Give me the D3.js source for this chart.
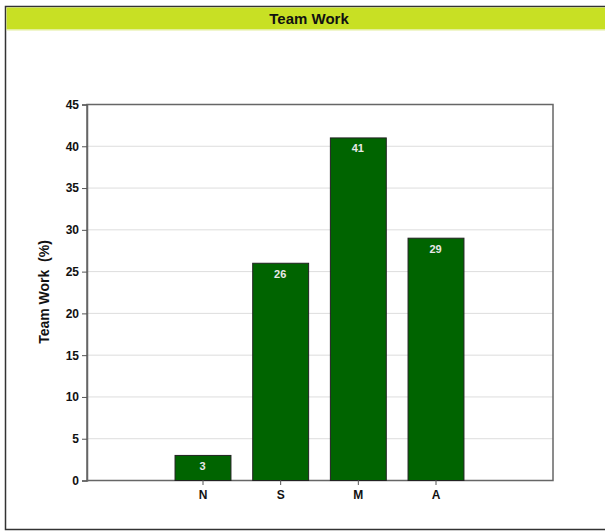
<!DOCTYPE html>
<html>
<head>
<meta charset="utf-8">
<script src="https://cdn.jsdelivr.net/npm/d3@7"></script>
<style>
body { margin: 0; background: #fff; }
text { font-family: "Liberation Sans", Arial, sans-serif; }
</style>
</head>
<body>
<div id="chart"></div>
<script>
var categories = ["", "N", "S", "M", "A", ""];
var values = [null, 3, 26, 41, 29, null];
var yTicks = [0, 5, 10, 15, 20, 25, 30, 35, 40, 45];
var title = "Team Work";
var yLabel = "Team Work  (%)";

var width = 605, height = 531;
var plot = { left: 87, top: 104, right: 553, bottom: 480 };

var svg = d3.select("#chart").append("svg")
	.attr("width", width)
	.attr("height", height);

// outer frame
svg.append("rect")
	.attr("x", 5.5).attr("y", 6.5)
	.attr("width", 640).attr("height", 523)
	.attr("fill", "#fff")
	.attr("stroke", "#333")
	.attr("stroke-width", 1.5);

// title bar
svg.append("rect")
	.attr("x", 6.5).attr("y", 7.5)
	.attr("width", 620).attr("height", 22)
	.attr("fill", "#c8e024");
svg.append("line")
	.attr("x1", 6.5).attr("x2", 620)
	.attr("y1", 30).attr("y2", 30)
	.attr("stroke", "#e2ee9a");
svg.append("text")
	.attr("x", 309).attr("y", 24)
	.attr("text-anchor", "middle")
	.attr("font-size", 15)
	.attr("font-weight", "bold")
	.attr("fill", "#111")
	.text(title);

var x = d3.scaleBand()
	.domain(d3.range(categories.length))
	.range([plot.left - 1, plot.right - 1])
	.paddingInner(0.28)
	.paddingOuter(0.14);

var y = d3.scaleLinear()
	.domain([0, 45])
	.range([plot.bottom, plot.top]);

// grid
svg.append("g").selectAll("line")
	.data(yTicks.slice(1))
	.enter().append("line")
	.attr("x1", plot.left).attr("x2", plot.right)
	.attr("y1", function(d){ return y(d) + 0.5; })
	.attr("y2", function(d){ return y(d) + 0.5; })
	.attr("stroke", "#ddd")
	.attr("stroke-width", 1);

// plot frame
svg.append("rect")
	.attr("x", plot.left).attr("y", plot.top + 0.5)
	.attr("width", plot.right - plot.left)
	.attr("height", plot.bottom - plot.top)
	.attr("fill", "none")
	.attr("stroke", "#666")
	.attr("stroke-width", 1.5);

// bars
var bars = svg.append("g").selectAll("g")
	.data(values.map(function(v, i){ return { i: i, v: v }; }).filter(function(d){ return d.v != null; }))
	.enter().append("g");

bars.append("rect")
	.attr("x", function(d){ return x(d.i) + 0.5; })
	.attr("y", function(d){ return y(d.v) + 0.5; })
	.attr("width", x.bandwidth())
	.attr("height", function(d){ return plot.bottom - y(d.v); })
	.attr("fill", "#006400")
	.attr("stroke", "#222")
	.attr("stroke-width", 1);

bars.append("text")
	.attr("x", function(d){ return x(d.i) + x.bandwidth() / 2; })
	.attr("y", function(d){ return y(d.v) + 15; })
	.attr("text-anchor", "middle")
	.attr("font-size", 11)
	.attr("font-weight", "bold")
	.attr("fill", "#e8e8e8")
	.text(function(d){ return d.v; });

// y axis
var yAxis = svg.append("g")
	.attr("transform", "translate(" + plot.left + ",0.5)")
	.call(d3.axisLeft(y).tickValues(yTicks).tickSize(5).tickPadding(3));
yAxis.select(".domain").attr("stroke", "#666").attr("stroke-width", 1.5);
yAxis.selectAll(".tick line").attr("stroke", "#555");
yAxis.selectAll(".tick text")
	.attr("font-size", 12)
	.attr("font-weight", "bold")
	.attr("fill", "#111")
	.style("font-family", "'Liberation Sans', Arial, sans-serif");

// x axis
var xAxis = svg.append("g")
	.attr("transform", "translate(0.5," + plot.bottom + ")")
	.call(d3.axisBottom(x).tickFormat(function(i){ return categories[i]; }).tickSize(5).tickPadding(5));
xAxis.select(".domain").remove();
xAxis.selectAll(".tick").filter(function(i){ return categories[i] === ""; }).remove();
xAxis.selectAll(".tick line").attr("stroke", "#555");
xAxis.selectAll(".tick text")
	.attr("font-size", 12)
	.attr("font-weight", "bold")
	.attr("fill", "#111")
	.style("font-family", "'Liberation Sans', Arial, sans-serif");

// y label
svg.append("text")
	.attr("transform", "translate(49," + ((plot.top + plot.bottom) / 2) + ") rotate(-90)")
	.attr("text-anchor", "middle")
	.attr("font-size", 14)
	.attr("font-weight", "bold")
	.attr("fill", "#111")
	.style("white-space", "pre")
	.text(yLabel);
</script>
</body>
</html>
